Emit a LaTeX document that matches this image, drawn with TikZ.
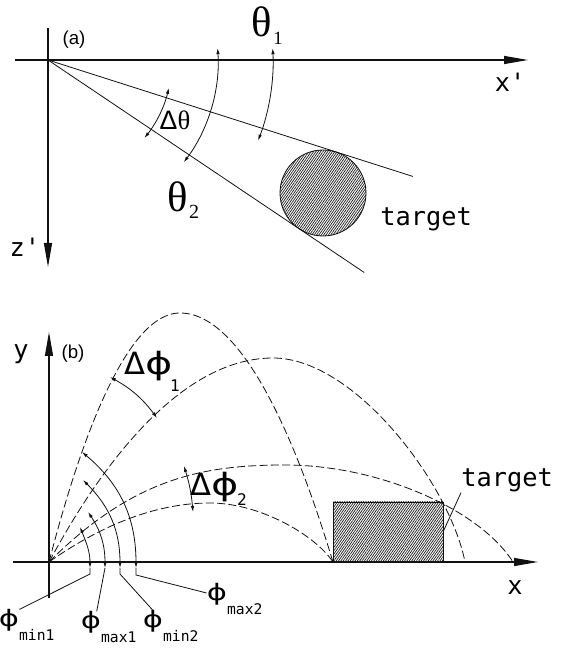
\documentclass[tikz,border=0pt]{standalone}
\usepackage{fontspec}
\usepackage{graphicx}
\setmainfont{Liberation Sans}
\newfontfamily\cadfont{DejaVu Sans Mono}
\newfontfamily\serifGreek{Liberation Serif}
\newfontfamily\sansGreek{DejaVu Sans}
\definecolor{inkLine}{HTML}{111111}
\definecolor{hatchInk}{HTML}{1E1E1E}
\usetikzlibrary{calc, positioning, arrows.meta, patterns.meta}

\newcommand{\widephi}{\scalebox{1.35}[1]{ϕ}}
\newcommand{\philabel}[1]{{\sansGreek\fontsize{17}{17}\selectfont\widephi}\rlap{\raisebox{-10pt}{\cadfont\fontsize{11}{11}\selectfont #1}}}

\tikzset{
  axisLine/.style={draw=inkLine, line width=0.9pt, -{Triangle[length=18pt,width=6pt]}},
  rayLine/.style={draw=inkLine, line width=0.6pt},
  dimArc/.style={draw=inkLine, line width=0.6pt, {Latex[length=4.5pt,width=2.6pt]}-{Latex[length=4.5pt,width=2.6pt]}},
  trajLine/.style={draw=inkLine, line width=0.6pt, dash pattern=on 6pt off 2.5pt},
  hatchFill/.style={draw=inkLine, line width=0.6pt, pattern={Lines[angle=55,distance=1.45pt,line width=0.55pt]}, pattern color=hatchInk},
  cadText/.style={font=\cadfont\fontsize{19}{19}\selectfont, inner sep=0pt},
  thetaText/.style={font=\serifGreek\fontsize{32}{32}\selectfont, inner sep=0pt},
  subText/.style={font=\serifGreek\fontsize{15}{15}\selectfont, inner sep=0pt},
  phiText/.style={font=\sansGreek\fontsize{23}{23}\selectfont, inner sep=0pt},
  phiSub/.style={font=\cadfont\fontsize{12}{12}\selectfont, inner sep=0pt},
  leader/.style={draw=inkLine, line width=0.6pt},
}

\begin{document}
\begin{tikzpicture}[x=0.75pt, y=0.75pt]
  \useasboundingbox (0,0) rectangle (567,650);

  % (a) top view
  \coordinate (oa) at (48,590);
  \draw[axisLine] (15,590) -- (528,590);
  \draw[axisLine] (48,622) -- (48,383);
  \node[font=\fontsize{14}{14}\selectfont, inner sep=0pt] (lbla) at (74,610) {(a)};
  \node[cadText] (xplab) at (510,568) {x'};
  \node[cadText] (zplab) at (25,403) {z'};

  \draw[hatchFill] (323,457) circle[radius=43];
  \node[cadText, anchor=base west] (tgta) at (380,424) {target};
  \draw[rayLine] (oa) -- ($(oa)+(-17.7:383)$);
  \draw[rayLine] (oa) -- ($(oa)+(-33.9:381)$);

  \draw[dimArc] ($(oa)+(3:225)$) arc[start angle=3, end angle=-21, radius=225];
  \draw[dimArc] ($(oa)+(4:170)$) arc[start angle=4, end angle=-37, radius=170];
  \draw[dimArc] ($(oa)+(-13:124)$) arc[start angle=-13, end angle=-39, radius=124];

  \node[thetaText] (th1) at (262,628) {θ};
  \node[subText, font=\serifGreek\fontsize{14}{14}\selectfont] (th1s) at (278,612) {1};
  \node[thetaText] (th2) at (178,453) {θ};
  \node[subText] (th2s) at (194,438) {2};
  \node[inner sep=0pt, font=\fontsize{20}{20}\selectfont] (dth) at (175,530) {Δ{\serifGreek θ}};

  % (b) side view
  \coordinate (ob) at (49,88);
  \draw[axisLine] (13,88) -- (538,88);
  \draw[axisLine] (49,52) -- (49,318);
  \node[font=\fontsize{14}{14}\selectfont, inner sep=0pt] (lblb) at (73,296) {(b)};
  \node[cadText] (ylab) at (21,296) {y};
  \node[cadText] (xlab) at (515,62) {x};

  \draw[hatchFill] (333,88) rectangle (443,148);
  \coordinate (rectR) at (443,118);
  \node[cadText, anchor=base west] (tgtb) at (461,163) {target};
  \draw[leader] (tgtb.south west) -- (rectR);

  \draw[trajLine] (ob) parabola bend (180,337) (333,88);
  \draw[trajLine] (ob) parabola[bend at end] (273,292) .. controls (355,292) and (450,165) .. (465,88);
  \draw[trajLine] (ob) .. controls (134,173) and (205,185) .. (285,185) .. controls (380,185) and (480,140) .. (513,88);
  \draw[trajLine] (ob) .. controls (106,128) and (160,147) .. (210,147) .. controls (260,147) and (315,115) .. (333,88);

  \draw[dimArc] (110,273) to[bend left=12] (157,232);
  \draw[dimArc] (184,184) to[bend left=6] (193,138);
  \node[phiText] (dphi1) at (149,284) {Δ\widephi};
  \node[phiSub] (dphi1s) at (175,264) {1};
  \node[phiText] (dphi2) at (215,163) {Δ\widephi};
  \node[phiSub] (dphi2s) at (242,150) {2};

  \coordinate (dmin1) at (90,82);
  \coordinate (dmax1) at (105,82);
  \coordinate (dmin2) at (120,82);
  \coordinate (dmax2) at (136,82);
  \draw[dimArc] (80,123) to[out=-68,in=90] (dmin1);
  \draw[dimArc] (88,138) to[out=-56,in=90] (dmax1);
  \draw[dimArc] (83,170) to[out=-45,in=90] (dmin2);
  \draw[dimArc] (82,198) to[out=-40,in=90] (dmax2);

  \node[inner sep=0pt] (pmin1) at (9,25) {\philabel{min1}};
  \node[inner sep=0pt] (pmax1) at (91,23) {\philabel{max1}};
  \node[inner sep=0pt] (pmin2) at (153,24) {\philabel{min2}};
  \node[inner sep=0pt] (pmax2) at (217,51) {\philabel{max2}};
  \draw[leader] (dmin1) -- ++(0,-6) -- (pmin1.north east);
  \draw[leader] (dmax1) -- (pmax1.70);
  \draw[leader] (dmin2) -- ++(0,-6) -- (pmin2.north);
  \draw[leader] (dmax2) -- ++(0,-7) -- (pmax2.150);
\end{tikzpicture}
\end{document}
